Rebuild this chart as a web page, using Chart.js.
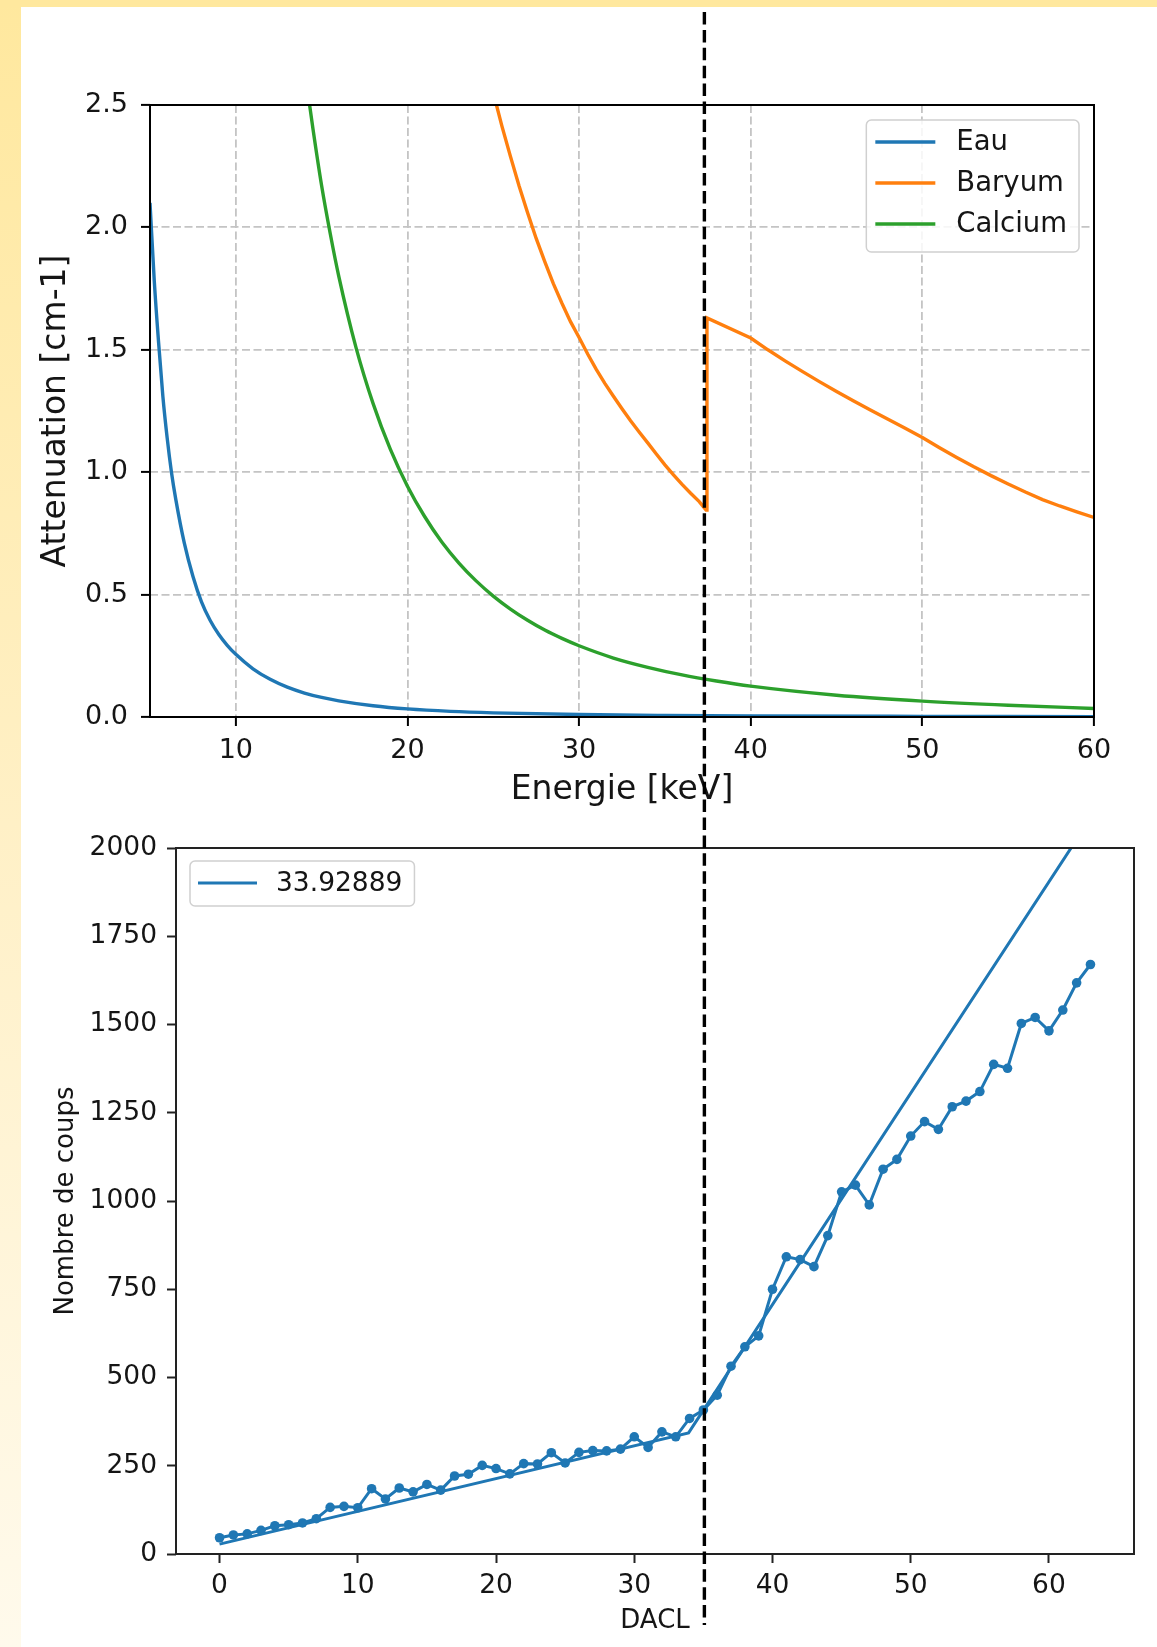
<!DOCTYPE html>
<html><head><meta charset="utf-8">
<script src="https://cdn.jsdelivr.net/npm/chart.js@4.4.0/dist/chart.umd.min.js"></script>
<style>
html,body{margin:0;padding:0;background:#fff;}
#page{position:relative;width:1157px;height:1647px;overflow:hidden;background:#fff;}
#strip{position:absolute;left:0;top:0;width:21px;height:1647px;background:linear-gradient(to bottom,#FFE89E 0%,#FFF0C6 50%,#FFFAEC 100%);}
#band{position:absolute;left:0;top:0;width:1157px;height:7px;background:#FFE89E;}
#c1{position:absolute;left:0;top:0;}
#c2{position:absolute;left:0;top:810px;}
#ov{position:absolute;left:0;top:0;pointer-events:none;}
</style></head><body>
<div id="page">
<div id="strip"></div><div id="band"></div>
<canvas id="c1" width="1157" height="810"></canvas>
<canvas id="c2" width="1157" height="837"></canvas>
<canvas id="ov" width="1157" height="1647"></canvas>
</div>
<script>
// ---------- Top chart data (attenuation vs energy) ----------
const seriesNames = ['Eau', 'Baryum', 'Calcium'];
const eauEnergy = [5, 5.25, 5.5, 5.75, 6, 6.25, 6.5, 7, 7.5, 8, 8.5, 9, 9.5, 10, 11, 12, 13, 14, 15, 16, 18, 20, 22.5, 25, 30, 35, 40, 50, 60];
const eauAtt    = [2.10, 1.78, 1.53, 1.31, 1.14, 1.00, 0.89, 0.71, 0.575, 0.47, 0.395, 0.338, 0.293, 0.256, 0.197, 0.154, 0.122, 0.098, 0.08, 0.066, 0.046, 0.033, 0.023, 0.017, 0.010, 0.0065, 0.0045, 0.0025, 0.0015];
const baEnergy = [25, 25.5, 26, 26.5, 27, 27.5, 28, 28.5, 29, 29.5, 30, 30.5, 31, 31.5, 32, 32.5, 33, 33.5, 34, 34.5, 35, 35.5, 36, 36.5, 37, 37.4,
                  37.45, 40, 41, 42, 43, 44, 45, 46, 47, 48, 49, 50, 51, 52, 53, 54, 55, 56, 57, 58, 59, 60];
const baAtt    = [2.55, 2.415, 2.29, 2.17, 2.06, 1.955, 1.86, 1.77, 1.69, 1.615, 1.55, 1.483, 1.42, 1.363, 1.31, 1.259, 1.21, 1.164, 1.12, 1.074, 1.03, 0.989, 0.95, 0.914, 0.88, 0.845,
                  1.63, 1.548, 1.50, 1.455, 1.412, 1.37, 1.33, 1.291, 1.253, 1.216, 1.18, 1.142, 1.10, 1.06, 1.022, 0.986, 0.952, 0.919, 0.888, 0.862, 0.838, 0.815];
const caEnergy = [14, 14.5, 15, 15.5, 16, 17, 18, 19, 20, 21, 22, 23, 24, 25, 26, 27, 28, 29, 30, 32, 34, 36, 38, 40, 45, 50, 55, 60];
const caAtt    = [2.65, 2.40, 2.17, 1.975, 1.80, 1.51, 1.28, 1.094, 0.943, 0.819, 0.715, 0.629, 0.556, 0.494, 0.441, 0.395, 0.355, 0.321, 0.291, 0.241, 0.203, 0.172, 0.147, 0.126, 0.089, 0.065, 0.048, 0.035];
const topXTicks = [10, 20, 30, 40, 50, 60];
const topYTicks = [0, 0.5, 1.0, 1.5, 2.0, 2.5];
const edgeKeV = 37.3;

// ---------- Bottom chart data (counts vs DACL) ----------
const dacl = [0,1,2,3,4,5,6,7,8,9,10,11,12,13,14,15,16,17,18,19,20,21,22,23,24,25,26,27,28,29,30,31,32,33,34,35,36,37,38,39,40,41,42,43,44,45,46,47,48,49,50,51,52,53,54,55,56,57,58,59,60,61,62,63];
const counts = [46,54,57,67,80,83,88,100,132,135,131,185,156,187,176,197,181,221,226,251,242,227,256,255,287,258,288,293,292,297,332,302,346,332,384,408,450,532,587,618,750,842,834,814,902,1026,1045,989,1090,1118,1184,1225,1203,1267,1283,1310,1387,1376,1503,1520,1482,1541,1618,1670];
const fitLabel = '33.92889';
const fitDacl = [0, 33.92889, 63];
const fitCounts = [28, 343, 2084];
const botXTicks = [0, 10, 20, 30, 40, 50, 60];
const botYTicks = [0, 250, 500, 750, 1000, 1250, 1500, 1750, 2000];

// ---------- helpers ----------
const FONT = "'DejaVu Sans', 'Liberation Sans', sans-serif";
const pts = (xs, ys) => xs.map((x, i) => ({x: x, y: ys[i]}));
const TXT = '#151515';

const framePlugin = {
  id: 'frame',
  afterDraw(chart, args, o) {
    const a = chart.chartArea, ctx = chart.ctx;
    ctx.save();
    ctx.strokeStyle = o.color; ctx.lineWidth = o.width;
    ctx.strokeRect(a.left, a.top, a.right - a.left, a.bottom - a.top);
    ctx.restore();
  }
};

const boxLegend = {
  id: 'boxLegend',
  afterDraw(chart, args, o) {
    const a = chart.chartArea, ctx = chart.ctx;
    const items = chart.data.datasets.filter(d => d.label);
    ctx.save();
    ctx.font = o.fontSize + 'px ' + FONT;
    let maxW = 0;
    items.forEach(d => { maxW = Math.max(maxW, ctx.measureText(d.label).width); });
    const w = o.textX + maxW + o.padRight;
    const h = o.firstRow + (items.length - 1) * o.rowGap + o.padBottom;
    const x = o.anchor === 'right' ? a.right - o.offsetX - w : a.left + o.offsetX;
    const y = a.top + o.offsetY;
    ctx.beginPath();
    ctx.roundRect(x, y, w, h, o.radius);
    ctx.fillStyle = 'rgba(255,255,255,0.85)';
    ctx.fill();
    ctx.strokeStyle = '#d0d0d0'; ctx.lineWidth = o.borderWidth;
    ctx.stroke();
    items.forEach((d, i) => {
      const cy = y + o.firstRow + i * o.rowGap;
      ctx.beginPath();
      ctx.strokeStyle = d.borderColor; ctx.lineWidth = d.borderWidth;
      ctx.moveTo(x + o.lineStart, cy); ctx.lineTo(x + o.lineEnd, cy); ctx.stroke();
      ctx.fillStyle = TXT; ctx.textBaseline = 'middle'; ctx.textAlign = 'left';
      ctx.fillText(d.label, x + o.textX, cy + 1);
    });
    ctx.restore();
  }
};

// ---------- Top chart ----------
const colors = ['#1f77b4', '#ff7f0e', '#2ca02c'];
const topChart = new Chart(document.getElementById('c1'), {
  type: 'line',
  data: {
    datasets: [
      {label: seriesNames[0], data: pts(eauEnergy, eauAtt), borderColor: colors[0], borderWidth: 3.4, pointRadius: 0, cubicInterpolationMode: 'monotone', order: 3},
      {label: seriesNames[1], data: pts(baEnergy, baAtt), borderColor: colors[1], borderWidth: 3.4, pointRadius: 0, tension: 0, borderJoinStyle: 'miter', order: 2},
      {label: seriesNames[2], data: pts(caEnergy, caAtt), borderColor: colors[2], borderWidth: 3.4, pointRadius: 0, cubicInterpolationMode: 'monotone', order: 1}
    ]
  },
  options: {
    responsive: false, animation: false, devicePixelRatio: 1,
    layout: {padding: {left: 0, right: 63, top: 105, bottom: 0}},
    plugins: {
      legend: {display: false}, tooltip: {enabled: false},
      frame: {color: '#000', width: 2},
      boxLegend: {anchor: 'right', offsetX: 15, offsetY: 15, fontSize: 27.5, textX: 90, padRight: 12, firstRow: 22, rowGap: 41, padBottom: 28, lineStart: 9, lineEnd: 69, radius: 5, borderWidth: 1.5}
    },
    scales: {
      x: {
        type: 'linear', min: 5, max: 60,
        afterBuildTicks: s => { s.ticks = topXTicks.map(v => ({value: v})); },
        afterFit: s => { s.height = 93; },
        ticks: {font: {family: FONT, size: 27}, color: TXT, padding: 9, maxRotation: 0, callback: v => String(v)},
        grid: {color: '#c4c4c4', lineWidth: 1.8, tickColor: '#000', tickWidth: 2, tickLength: 9, tickBorderDash: []},
        border: {display: false, dash: [8, 3.5]},
        title: {display: true, text: 'Energie [keV]', color: TXT, font: {family: FONT, size: 33}, padding: {top: 0, bottom: 0}}
      },
      y: {
        type: 'linear', min: 0, max: 2.5,
        afterBuildTicks: s => { s.ticks = topYTicks.map(v => ({value: v})); },
        afterFit: s => { s.width = 150; },
        ticks: {font: {family: FONT, size: 27}, color: TXT, padding: 13, callback: v => Number(v).toFixed(1)},
        grid: {color: '#c4c4c4', lineWidth: 1.8, tickColor: '#000', tickWidth: 2, tickLength: 9, tickBorderDash: []},
        border: {display: false, dash: [8, 3.5]},
        title: {display: true, text: 'Attenuation [cm-1]', color: TXT, font: {family: FONT, size: 33}, padding: {top: 37, bottom: 0}}
      }
    }
  },
  plugins: [framePlugin, boxLegend]
});

// ---------- Bottom chart ----------
const botChart = new Chart(document.getElementById('c2'), {
  type: 'line',
  data: {
    datasets: [
      {label: '', data: pts(dacl, counts), borderColor: colors[0], backgroundColor: colors[0], borderWidth: 3, pointRadius: 4.8, pointBorderWidth: 0, pointBackgroundColor: colors[0], tension: 0},
      {label: fitLabel, data: pts(fitDacl, fitCounts), borderColor: colors[0], borderWidth: 3, pointRadius: 0, tension: 0}
    ]
  },
  options: {
    responsive: false, animation: false, devicePixelRatio: 1,
    layout: {padding: {left: 0, right: 23, top: 38, bottom: 0}},
    plugins: {
      legend: {display: false}, tooltip: {enabled: false},
      frame: {color: '#222', width: 2},
      boxLegend: {anchor: 'left', offsetX: 14, offsetY: 13, fontSize: 26.5, textX: 86, padRight: 12, firstRow: 22, rowGap: 40, padBottom: 23, lineStart: 8, lineEnd: 67, radius: 5, borderWidth: 1.5}
    },
    scales: {
      x: {
        type: 'linear', min: -3.15, max: 66.15,
        afterBuildTicks: s => { s.ticks = botXTicks.map(v => ({value: v})); },
        afterFit: s => { s.height = 93; },
        ticks: {font: {family: FONT, size: 26.5}, color: TXT, padding: 7, maxRotation: 0, callback: v => String(v)},
        grid: {drawOnChartArea: false, tickColor: '#222', tickWidth: 2, tickLength: 9, tickBorderDash: []},
        border: {display: false},
        title: {display: true, text: 'DACL', color: TXT, font: {family: FONT, size: 26}, padding: {top: 0, bottom: 10}}
      },
      y: {
        type: 'linear', min: 0, max: 2000,
        afterBuildTicks: s => { s.ticks = botYTicks.map(v => ({value: v})); },
        afterFit: s => { s.width = 176; },
        ticks: {font: {family: FONT, size: 26.5}, color: TXT, padding: 10, callback: v => String(v)},
        grid: {drawOnChartArea: false, tickColor: '#222', tickWidth: 2, tickLength: 9, tickBorderDash: []},
        border: {display: false},
        title: {display: true, text: 'Nombre de coups', color: TXT, font: {family: FONT, size: 26}, padding: {top: 51, bottom: 0}}
      }
    }
  },
  plugins: [framePlugin, boxLegend]
});

// ---------- dashed vertical marker across both panels ----------
const ov = document.getElementById('ov').getContext('2d');
const xEdge = topChart.scales.x.getPixelForValue(edgeKeV);
ov.save();
ov.setLineDash([12.5, 5.4]);
ov.lineWidth = 3.4;
ov.strokeStyle = '#000';
ov.beginPath();
ov.moveTo(xEdge, 12);
ov.lineTo(xEdge, 1625);
ov.stroke();
ov.restore();
</script>
</body></html>
